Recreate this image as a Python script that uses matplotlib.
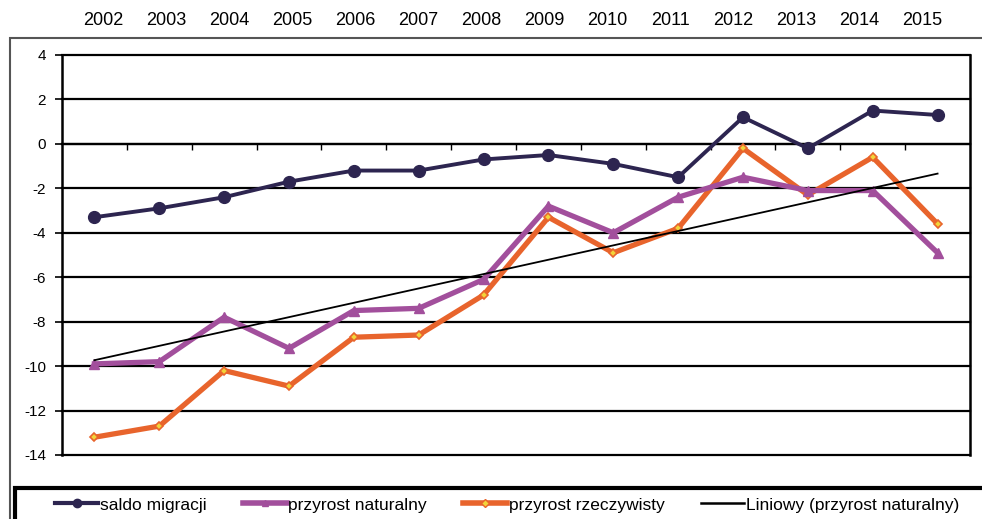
import matplotlib.pyplot as plt
import numpy as np
from matplotlib.patches import Rectangle
from matplotlib.lines import Line2D

plt.rcParams['font.family'] = ['Liberation Sans', 'DejaVu Sans']

lata = ["2002", "2003", "2004", "2005", "2006", "2007", "2008",
        "2009", "2010", "2011", "2012", "2013", "2014", "2015"]
saldo_migracji = [-3.3, -2.9, -2.4, -1.7, -1.2, -1.2, -0.7,
                  -0.5, -0.9, -1.5, 1.2, -0.2, 1.5, 1.3]
przyrost_naturalny = [-9.9, -9.8, -7.8, -9.2, -7.5, -7.4, -6.1,
                      -2.8, -4.0, -2.4, -1.5, -2.1, -2.1, -4.9]
przyrost_rzeczywisty = [-13.2, -12.7, -10.2, -10.9, -8.7, -8.6, -6.8,
                        -3.3, -4.9, -3.8, -0.2, -2.3, -0.6, -3.6]
y_ticks = [-14, -12, -10, -8, -6, -4, -2, 0, 2, 4]

x = np.arange(len(lata))

fig = plt.figure(figsize=(9.82, 5.19), dpi=100)
ax = fig.add_axes([62 / 982, 1 - 455 / 519, 908 / 982, 400 / 519])

# linie siatki
for v in y_ticks:
    ax.axhline(v, color="black", lw=1.6, zorder=1, clip_on=False)

ax.plot(x, przyrost_rzeczywisty, color="#e8642c", lw=3.8, marker="D",
        markersize=4.5, markerfacecolor="#f2d43a", markeredgecolor="#e8642c",
        markeredgewidth=1.2, zorder=3, label="przyrost rzeczywisty")
ax.plot(x, przyrost_naturalny, color="#a24f9c", lw=3.8, marker="^",
        markersize=7, zorder=4, label="przyrost naturalny")
ax.plot(x, saldo_migracji, color="#2d2550", lw=2.8, marker="o",
        markersize=8.5, zorder=5, label="saldo migracji")

# linia trendu (liniowy)
a, b = np.polyfit(x, przyrost_naturalny, 1)
ax.plot(x, a * x + b, color="black", lw=1.3, zorder=6)

ax.set_xlim(-0.5, len(lata) - 0.5)
ax.set_ylim(-14, 4)
ax.set_yticks(y_ticks)
ax.set_yticklabels([str(v) for v in y_ticks], fontsize=11)
ax.tick_params(axis="y", length=5, width=1.2, direction="out", pad=6.5)

ax.spines["top"].set_visible(False)
ax.spines["bottom"].set_position(("data", 0))
ax.spines["bottom"].set_linewidth(1.6)
ax.spines["left"].set_linewidth(1.8)
ax.spines["right"].set_linewidth(1.8)
ax.set_xticks(np.arange(0.5, len(lata) - 1, 1))
ax.set_xticklabels([])
ax.tick_params(axis="x", length=4, width=1, direction="out")

# lata na gorze
ax2 = ax.twiny()
ax2.set_xlim(-0.65, 13.76)
ax2.set_xticks(x)
ax2.set_xticklabels(lata, fontsize=13)
ax2.tick_params(axis="x", length=0, pad=19)
for s in ax2.spines.values():
    s.set_visible(False)

# ramki
fig.patches.append(Rectangle((10 / 982, -0.1), 1.2, 1 - 38 / 519 + 0.1,
                             transform=fig.transFigure, fill=False,
                             edgecolor="#555555", lw=1.5))
fig.patches.append(Rectangle((15 / 982, -0.1), 1.2, 1 - 488 / 519 + 0.1,
                             transform=fig.transFigure, fill=False,
                             edgecolor="black", lw=3))

uchwyty = [
    Line2D([], [], color="#2d2550", lw=3, marker="o", markersize=6),
    Line2D([], [], color="#a24f9c", lw=4, marker="^", markersize=5),
    Line2D([], [], color="#e8642c", lw=4, marker="D", markersize=4,
           markerfacecolor="#f2d43a", markeredgecolor="#e8642c"),
    Line2D([], [], color="black", lw=1.8),
]
opisy = ["saldo migracji", "przyrost naturalny", "przyrost rzeczywisty",
         "Liniowy (przyrost naturalny)"]
fig.legend(uchwyty, opisy, loc="center left",
           bbox_to_anchor=(48 / 982, 1 - 505 / 519), borderaxespad=0,
           ncol=4, frameon=False, fontsize=12.5, handlelength=2.5,
           handletextpad=0.1, columnspacing=2.1)

fig.savefig("out.png", dpi=100)
